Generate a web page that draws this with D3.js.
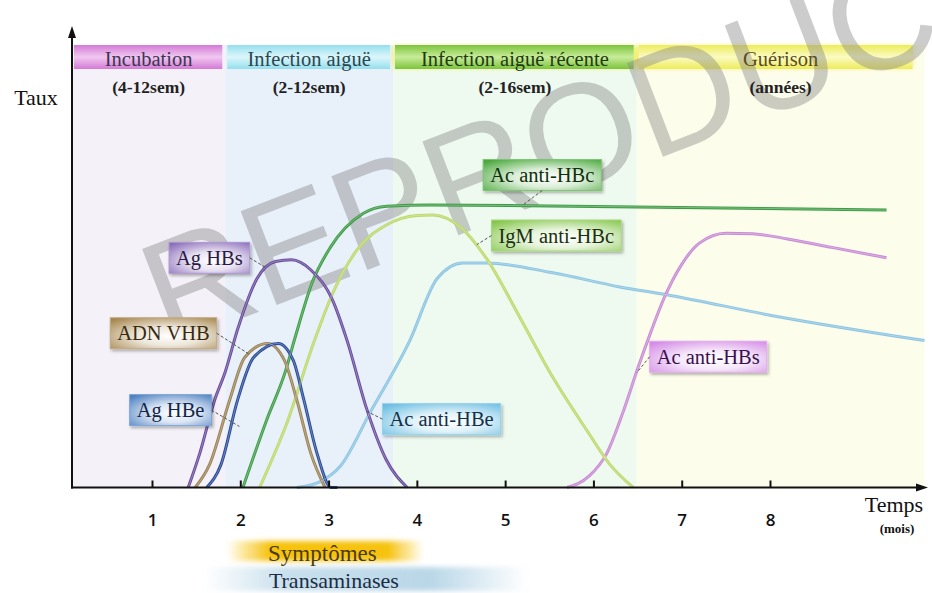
<!DOCTYPE html>
<html>
<head>
<meta charset="utf-8">
<script src="https://cdn.jsdelivr.net/npm/d3@7"></script>
<style>
body { margin: 0; background: #fff; }
svg { display: block; }
svg text { font-family: "Liberation Serif", "Times New Roman", serif; }
</style>
</head>
<body>
<div class="content"></div>
<script>
const width = 932
const height = 593

// data, time in months, level in % of the Ac anti-HBc plateau
const months = [1, 2, 3, 4, 5, 6, 7, 8]
const phaseNames = ['Incubation', 'Infection aiguë', 'Infection aiguë récente', 'Guérison']
const phaseDurations = ['(4-12sem)', '(2-12sem)', '(2-16sem)', '(années)']
const phaseStarts = [0.09, 1.83, 3.73, 6.49]
const phaseEnds = [1.83, 3.73, 6.49, 9.75]

const agHBs = [[1.41, 0], [1.54, 12], [1.71, 31], [1.83, 41], [1.97, 56], [2.19, 74], [2.4, 80], [2.58, 80.6], [2.8, 77], [3.05, 66], [3.21, 52], [3.43, 28], [3.65, 10], [3.89, 0]]
const adnVHB = [[1.49, 0], [1.65, 8], [1.88, 31], [2.05, 46], [2.31, 51], [2.5, 45], [2.64, 31], [2.8, 12], [2.96, 0]]
const agHBe = [[1.62, 0], [1.78, 8], [1.97, 31], [2.15, 46], [2.43, 51], [2.6, 45], [2.72, 31], [2.87, 12], [3.03, 0], [3.1, 0]]
const acAntiHBc = [[2.03, 0], [2.3, 24], [2.51, 41], [2.62, 53], [2.82, 73], [3.02, 85], [3.39, 97], [3.66, 99.6], [4.15, 100], [6, 99.5], [9.32, 98.2]]
const igmAntiHBc = [[2.22, 0], [2.53, 23], [2.84, 52], [3.05, 69], [3.32, 84], [3.66, 93], [4.0, 96.3], [4.18, 96.5], [4.5, 92], [4.79, 81], [5.17, 60], [5.54, 39], [5.93, 20], [6.19, 8], [6.45, 0]]
const acAntiHBe = [[2.64, 0], [2.9, 2], [3.13, 7.4], [3.47, 26.5], [3.92, 52], [4.23, 74], [4.52, 79.5], [4.79, 79.5], [5.54, 76], [6.3, 71], [6.87, 68], [8, 61], [9.75, 52]]
const acAntiHBs = [[5.7, 0], [5.95, 4], [6.15, 12], [6.35, 28], [6.5, 42], [6.65, 55], [6.8, 67], [7.0, 79], [7.2, 86.5], [7.5, 90], [7.8, 89.8], [8.2, 88], [8.7, 85], [9.32, 81.3]]

const x = d3.scaleLinear().domain([1, 8]).range([152, 770])
const y = d3.scaleLinear().domain([0, 100]).range([487.5, 205])
const axisX = 72
const axisY = 487.5
const bandTop = 45

const svg = d3.select('div.content')
    .append('svg')
    .attr('width', width)
    .attr('height', height)

const defs = svg.append('defs')

defs.append('filter').attr('id', 'shadow')
    .attr('x', '-20%').attr('y', '-20%').attr('width', '140%').attr('height', '150%')
    .append('feDropShadow')
    .attr('dx', 1.5).attr('dy', 2).attr('stdDeviation', 1.5)
    .attr('flood-color', '#000').attr('flood-opacity', 0.3)

defs.append('filter').attr('id', 'soft')
    .attr('x', '-10%').attr('y', '-50%').attr('width', '120%').attr('height', '200%')
    .append('feGaussianBlur').attr('stdDeviation', 2.5)

// box gradient: coloured bevel, pale centre
function boxGradient(id, color) {
    let light = d3.interpolateRgb(color, '#fff')(0.8)
    let g = defs.append('radialGradient').attr('id', id)
        .attr('cx', '55%').attr('cy', '60%').attr('r', '75%')
    g.append('stop').attr('offset', '0%').attr('stop-color', '#fff')
    g.append('stop').attr('offset', '40%').attr('stop-color', light)
    g.append('stop').attr('offset', '100%').attr('stop-color', color)
}

function barGradient(id, color, mid) {
    let g = defs.append('linearGradient').attr('id', id)
        .attr('x1', 0).attr('y1', 0).attr('x2', 0).attr('y2', 1)
    g.append('stop').attr('offset', '0%').attr('stop-color', color)
    g.append('stop').attr('offset', '50%').attr('stop-color', mid)
    g.append('stop').attr('offset', '100%').attr('stop-color', color)
}

function fadeGradient(id, color, stops) {
    let g = defs.append('linearGradient').attr('id', id)
    stops.forEach(s => g.append('stop').attr('offset', s[0]).attr('stop-color', color).attr('stop-opacity', s[1]))
}

// phase backgrounds
const bandColors = ['#f4f1f8', '#e8f0fa', '#eefaef', '#fdfdeb']
svg.selectAll('rect.band')
    .data(phaseNames)
    .join('rect')
    .attr('class', 'band')
    .attr('x', (d, i) => Math.max(x(phaseStarts[i]), axisX))
    .attr('y', bandTop)
    .attr('width', (d, i) => x(phaseEnds[i]) - Math.max(x(phaseStarts[i]), axisX))
    .attr('height', axisY - bandTop)
    .attr('fill', (d, i) => bandColors[i])

// phase header bars
const barColors = [['#d47ad6', '#f0c8f0'], ['#95dfee', '#dcf6fa'], ['#7cc43c', '#c8ec9a'], ['#eeec5a', '#fbfbc4']]
barColors.forEach((c, i) => barGradient('bar' + i, c[0], c[1]))

svg.append('rect')
    .attr('x', x(phaseStarts[2]))
    .attr('y', bandTop + 1)
    .attr('width', x(phaseEnds[3]) - 12 - x(phaseStarts[2]))
    .attr('height', 22)
    .attr('fill', '#f3f07a')
    .attr('filter', 'url(#soft)')

svg.selectAll('rect.head')
    .data(phaseNames)
    .join('rect')
    .attr('class', 'head')
    .attr('x', (d, i) => Math.max(x(phaseStarts[i]), axisX) + 2)
    .attr('y', bandTop)
    .attr('width', (d, i) => x(phaseEnds[i]) - Math.max(x(phaseStarts[i]), axisX) - (i == 3 ? 14 : 5))
    .attr('height', 24)
    .attr('fill', (d, i) => `url(#bar${i})`)

// watermark, over the bands and under the curves
svg.append('text')
    .attr('transform', 'translate(167,347) rotate(-21)')
    .style('font-family', '"Liberation Sans", Arial, sans-serif')
    .attr('font-size', 146)
    .attr('fill', '#858585')
    .attr('fill-opacity', 0.42)
    .text('REPRODUCTION')

const headColors = ['#3d3552', '#2b4650', '#1f3a12', '#5a4c22']
svg.selectAll('text.phase')
    .data(phaseNames)
    .join('text')
    .attr('class', 'phase')
    .attr('x', (d, i) => (Math.max(x(phaseStarts[i]), axisX) + x(phaseEnds[i])) / 2)
    .attr('y', 66)
    .attr('text-anchor', 'middle')
    .attr('font-size', 20.5)
    .attr('fill', (d, i) => headColors[i])
    .text(d => d)

svg.selectAll('text.duration')
    .data(phaseDurations)
    .join('text')
    .attr('class', 'duration')
    .attr('x', (d, i) => (Math.max(x(phaseStarts[i]), axisX) + x(phaseEnds[i])) / 2)
    .attr('y', 93)
    .attr('text-anchor', 'middle')
    .attr('font-size', 17.5)
    .attr('font-weight', 'bold')
    .attr('fill', '#222')
    .text(d => d)

// curves
const series = [
    { values: acAntiHBe, color: '#8cc5e2' },
    { values: acAntiHBs, color: '#c98cd5' },
    { values: igmAntiHBc, color: '#bdd96c' },
    { values: acAntiHBc, color: '#3f9d46' },
    { values: agHBs, color: '#6a4e9e' },
    { values: adnVHB, color: '#9c8457' },
    { values: agHBe, color: '#2c4d9b' }
]

const line = d3.line()
    .x(d => x(d[0]))
    .y(d => y(d[1]))
    .curve(d3.curveMonotoneX)

svg.selectAll('path.curve')
    .data(series)
    .join('path')
    .attr('class', 'curve')
    .attr('d', d => line(d.values))
    .attr('fill', 'none')
    .attr('stroke', d => d.color)
    .attr('stroke-width', 3)
svg.selectAll('path.hl')
    .data(series)
    .join('path')
    .attr('class', 'hl')
    .attr('d', d => line(d.values))
    .attr('fill', 'none')
    .attr('stroke', '#fff')
    .attr('stroke-opacity', 0.3)
    .attr('stroke-width', 1)

// axes
svg.append('line')
    .attr('x1', axisX).attr('y1', axisY + 1)
    .attr('x2', axisX).attr('y2', 36)
    .attr('stroke', '#111').attr('stroke-width', 2)
svg.append('path')
    .attr('d', `M${axisX - 4},38 L${axisX},26 L${axisX + 4},38 Z`)
    .attr('fill', '#111')
svg.append('line')
    .attr('x1', axisX - 1).attr('y1', axisY)
    .attr('x2', 918).attr('y2', axisY)
    .attr('stroke', '#111').attr('stroke-width', 2)
svg.append('path')
    .attr('d', `M916,${axisY - 4} L928,${axisY} L916,${axisY + 4} Z`)
    .attr('fill', '#111')

const xAxis = svg.append('g')
    .attr('transform', `translate(0,${axisY})`)
    .call(d3.axisBottom(x).tickValues(months).tickFormat(d3.format('d')).tickSizeInner(-7).tickSizeOuter(0).tickPadding(26))
xAxis.select('.domain').remove()
xAxis.selectAll('.tick line').attr('stroke', '#111').attr('stroke-width', 2)
xAxis.selectAll('.tick text')
    .style('font-family', '"Open Sans", "Liberation Sans", sans-serif')
    .attr('font-size', 17)
    .attr('font-weight', 600)
    .attr('fill', '#111')

svg.append('text').attr('x', 36).attr('y', 105).attr('text-anchor', 'middle')
    .attr('font-size', 22).attr('fill', '#111').text('Taux')
svg.append('text').attr('x', 894).attr('y', 512).attr('text-anchor', 'middle')
    .attr('font-size', 22).attr('fill', '#111').text('Temps')
svg.append('text').attr('x', 897).attr('y', 533).attr('text-anchor', 'middle')
    .attr('font-size', 13).attr('font-weight', 'bold').attr('fill', '#111').text('(mois)')

// symptoms / transaminases bars under the axis
fadeGradient('symp', '#f6c20c', [['0%', 0], ['22%', 1], ['82%', 1], ['100%', 0]])
fadeGradient('trans', '#9cc6de', [['0%', 0], ['25%', 0.55], ['70%', 0.7], ['100%', 0]])
svg.append('rect')
    .attr('x', x(1.85)).attr('y', 541).attr('width', x(4.07) - x(1.85)).attr('height', 20)
    .attr('fill', 'url(#symp)').attr('filter', 'url(#soft)')
svg.append('rect')
    .attr('x', x(1.6)).attr('y', 567).attr('width', x(5.25) - x(1.6)).attr('height', 24)
    .attr('fill', 'url(#trans)').attr('filter', 'url(#soft)')
svg.append('text').attr('x', x(2.93)).attr('y', 561).attr('text-anchor', 'middle')
    .attr('font-size', 23).attr('fill', '#4a3a0e').text('Symptômes')
svg.append('text').attr('x', x(3.06)).attr('y', 588).attr('text-anchor', 'middle')
    .attr('font-size', 22).attr('fill', '#1c2c44').text('Transaminases')

// curve labels: box centre and anchor on the curve, in data units
const labels = [
    { text: 'Ag HBs', box: [1.65, 81.3], anchor: [2.28, 78], side: 'right', color: '#8a6cba', ink: '#2a1a44' },
    { text: 'ADN VHB', box: [1.13, 54.6], anchor: [2.11, 47], side: 'right', color: '#a5854c', ink: '#3a2a10' },
    { text: 'Ag HBe', box: [1.21, 27.4], anchor: [1.99, 21.6], side: 'right', color: '#4a7fc2', ink: '#12264a' },
    { text: 'Ac anti-HBe', box: [4.28, 24.2], anchor: [3.43, 27], side: 'left', color: '#6abde2', ink: '#12304a' },
    { text: 'Ac anti-HBc', box: [5.42, 110.6], anchor: [5.2, 100], side: 'bottom', color: '#4aa83c', ink: '#10300c' },
    { text: 'IgM anti-HBc', box: [5.58, 89.2], anchor: [4.68, 86], side: 'left', color: '#84c64a', ink: '#1a3010' },
    { text: 'Ac anti-HBs', box: [7.3, 46.3], anchor: [6.49, 40.6], side: 'left', color: '#d48ae6', ink: '#3a1050' }
]
labels.forEach((d, i) => boxGradient('lab' + i, d.color))

const lab = svg.selectAll('g.label')
    .data(labels)
    .join('g')
    .attr('class', 'label')

lab.append('text')
    .attr('x', d => x(d.box[0]))
    .attr('y', d => y(d.box[1]) + 7)
    .attr('text-anchor', 'middle')
    .attr('font-size', 20.5)
    .attr('fill', d => d.ink)
    .text(d => d.text)
    .each(function (d) { d.w = this.getComputedTextLength() + 14 })

lab.insert('rect', 'text')
    .attr('x', d => x(d.box[0]) - d.w / 2)
    .attr('y', d => y(d.box[1]) - 15.5)
    .attr('width', d => d.w)
    .attr('height', 31)
    .attr('fill', (d, i) => `url(#lab${i})`)
    .attr('stroke', d => d3.interpolateRgb(d.color, '#fff')(0.3))
    .attr('stroke-width', 1)
    .attr('filter', 'url(#shadow)')

lab.append('line')
    .attr('x1', d => d.side == 'right' ? x(d.box[0]) + d.w / 2 : d.side == 'left' ? x(d.box[0]) - d.w / 2 : x(d.box[0]))
    .attr('y1', d => d.side == 'bottom' ? y(d.box[1]) + 15.5 : y(d.box[1]))
    .attr('x2', d => x(d.anchor[0]))
    .attr('y2', d => y(d.anchor[1]))
    .attr('stroke', '#555')
    .attr('stroke-width', 1)
    .attr('stroke-dasharray', '3,2')
</script>
</body>
</html>
